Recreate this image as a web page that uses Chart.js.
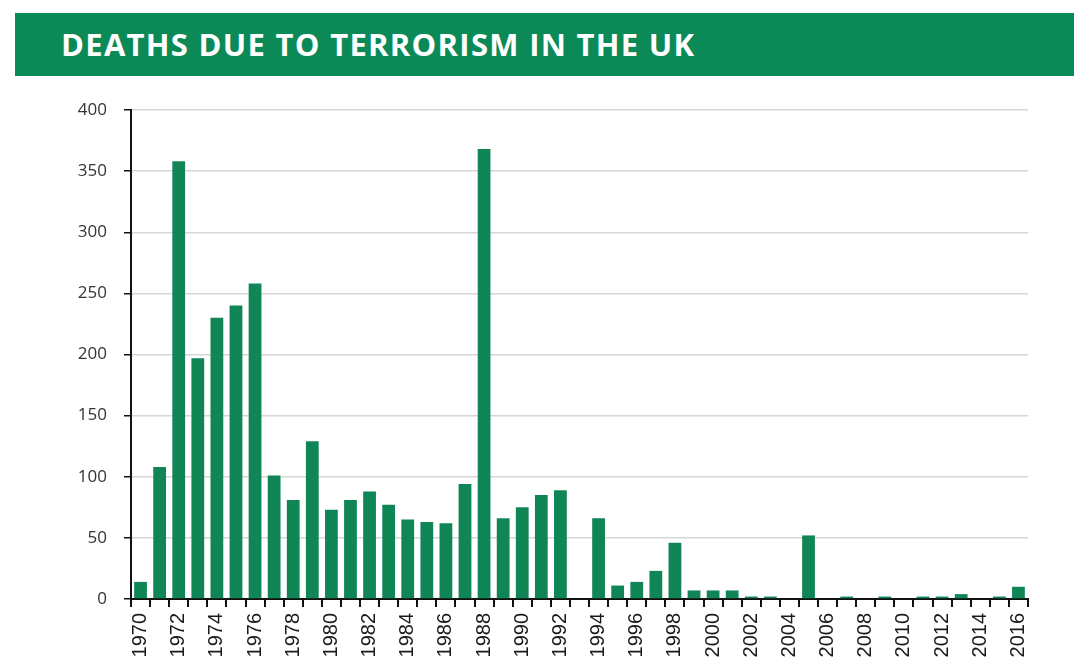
<!DOCTYPE html>
<html>
<head>
<meta charset="utf-8">
<script src="https://cdn.jsdelivr.net/npm/chart.js@4"></script>
<style>
  html, body { margin: 0; padding: 0; background: #fff; overflow: hidden; }
  #wrap { position: relative; width: 1074px; height: 661px; }
  #banner {
    position: absolute; left: 15px; top: 13px; width: 1059px; height: 63px;
    background: #0b8a57; color: #fff;
    font-family: 'Open Sans', sans-serif; font-weight: 700; font-size: 31px; letter-spacing: 1.3px;
    line-height: 63px; padding-left: 46px; box-sizing: border-box; white-space: nowrap;
  }
  canvas { position: absolute; left: 0; top: 0; }
</style>
</head>
<body>
<div id="wrap">
  <canvas id="c" width="1074" height="661"></canvas>
  <div id="banner">DEATHS DUE TO TERRORISM IN THE UK</div>
</div>
<script>
const years = [1970,1971,1972,1973,1974,1975,1976,1977,1978,1979,
  1980,1981,1982,1983,1984,1985,1986,1987,1988,1989,
  1990,1991,1992,1993,1994,1995,1996,1997,1998,1999,
  2000,2001,2002,2003,2004,2005,2006,2007,2008,2009,
  2010,2011,2012,2013,2014,2015,2016];
const deaths = [14,108,358,197,230,240,258,101,81,129,
  73,81,88,77,65,63,62,94,368,66,
  75,85,89,0,66,11,14,23,46,7,
  7,7,2,2,0,52,0,2,0,2,
  0,2,2,4,0,2,10];
const yTicks = [0,50,100,150,200,250,300,350,400];

const ctx = document.getElementById('c');
new Chart(ctx, {
  type: 'bar',
  data: {
    labels: years.map(String),
    datasets: [{
      data: deaths,
      backgroundColor: '#108657',
      borderWidth: 0,
      barPercentage: 0.67,
      categoryPercentage: 1.0
    }]
  },
  options: {
    responsive: false,
    animation: false,
    layout: { padding: { top: 110, left: 0, right: 46, bottom: 0 } },
    plugins: { legend: { display: false }, tooltip: { enabled: false }, title: { display: false } },
    scales: {
      x: {
        afterFit: (s) => { s.height = 62; },
        grid: { display: true, drawOnChartArea: false, drawTicks: true, tickLength: 8,
                tickColor: '#111', lineWidth: 2, offset: true },
        border: { display: true, color: '#111', width: 2 },
        ticks: {
          autoSkip: false, maxRotation: 90, minRotation: 90, padding: 6,
          color: '#1a1a1a', font: { family: 'Liberation Sans, Arial, sans-serif', size: 20 },
          callback: function(v, i) { return i % 2 === 0 ? this.getLabelForValue(v) : ''; }
        }
      },
      y: {
        min: 0, max: 400,
        afterFit: (s) => { s.width = 131; },
        afterBuildTicks: (s) => { s.ticks = yTicks.map(v => ({ value: v })); },
        grid: { color: '#d6d6d6', lineWidth: 1.5, drawTicks: true, tickLength: 7, tickColor: '#111' },
        border: { display: true, color: '#111', width: 2 },
        ticks: {
          padding: 17, color: '#333',
          font: { family: 'Open Sans, sans-serif', size: 17 }
        }
      }
    }
  }
});
</script>
</body>
</html>
